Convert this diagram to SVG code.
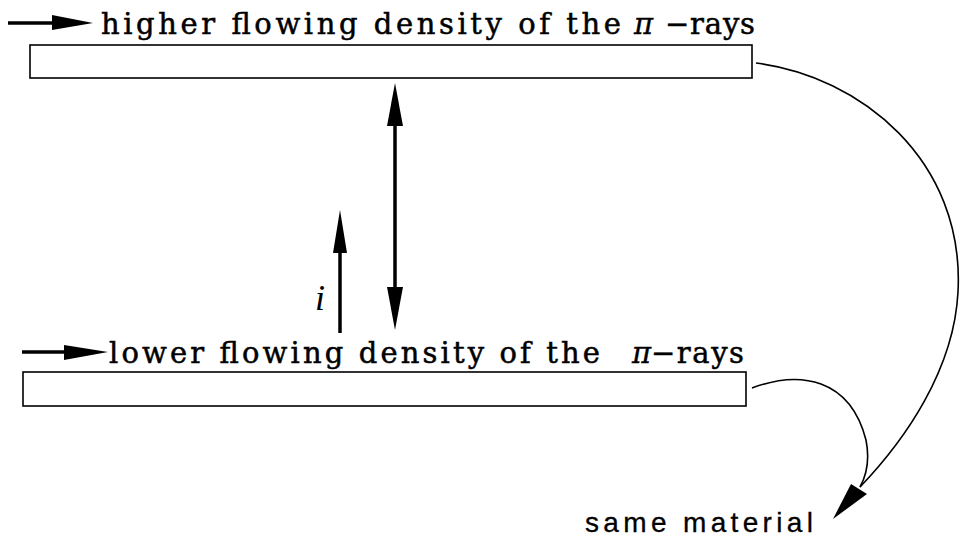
<svg xmlns="http://www.w3.org/2000/svg" width="960" height="546" viewBox="0 0 960 546">
<style>
.bar{fill:#fff;stroke:#000;stroke-width:1.6}
.shaft{stroke:#000;stroke-width:3.5;fill:none}
.head{fill:#000;stroke:none}
.curve{stroke:#000;stroke-width:1.6;fill:none}
.lbl{font-family:"DejaVu Serif","Liberation Serif",serif;font-size:29px;fill:#000;stroke:#000;stroke-width:0.5}
.pi{font-family:"DejaVu Serif","Liberation Serif",serif;font-style:italic;font-size:29px;fill:#000;stroke:#000;stroke-width:0.4}
.sans{font-family:"Liberation Sans","DejaVu Sans",sans-serif;font-size:28px;fill:#000;stroke:#000;stroke-width:0.3}
.it{font-family:"Liberation Serif",serif;font-style:italic;font-size:36px;fill:#000}
</style>
<rect width="960" height="546" fill="#fff"/>
<g id="top-layer">
<rect class="bar" x="30" y="45" width="722" height="33"/>
<path class="shaft" d="M8,23 H56"/>
<polygon class="head" points="52,15 93,23 52,30"/>
<text class="lbl" x="101" y="34" textLength="520" lengthAdjust="spacing">higher flowing density of the</text>
<text class="pi" x="634" y="34">π</text>
<text class="lbl" x="665" y="34" textLength="90" lengthAdjust="spacing">−rays</text>
</g>
<g id="bottom-layer">
<rect class="bar" x="23" y="372" width="723" height="34"/>
<path class="shaft" d="M22,352 H68"/>
<polygon class="head" points="64,345 108,352 64,360"/>
<text class="lbl" x="109" y="363" textLength="491" lengthAdjust="spacing">lower flowing density of the</text>
<text class="pi" x="632" y="363">π</text>
<text class="lbl" x="651" y="363" textLength="93" lengthAdjust="spacing">−rays</text>
</g>
<g id="current">
<path class="shaft" d="M340,250 V333"/>
<polygon class="head" points="340,210 347,253 333,253"/>
<text class="it" x="315" y="310">i</text>
</g>
<g id="label-same-material">
<text class="sans" x="585" y="532" textLength="228" lengthAdjust="spacing">same material</text>
</g>
<g id="connectors">
<path class="shaft" d="M395,122 V291"/>
<polygon class="head" points="395,83 403,126 387,126"/>
<polygon class="head" points="395,330 403,287 387,287"/>
<path class="curve" d="M756,63 C860,76 965,160 958,292 C954,370 905,440 860,487"/>
<path class="curve" d="M752,388 C800,370 850,378 866,440 C870,460 866,476 860,487"/>
<polygon class="head" points="833,519 851,484 867,494"/>
</g>
</svg>
